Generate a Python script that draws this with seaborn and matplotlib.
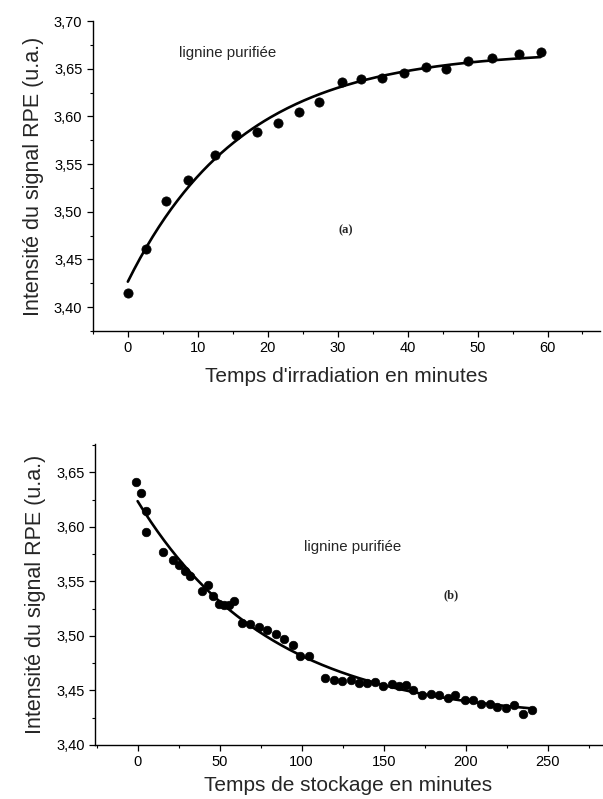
import numpy as np
import matplotlib
matplotlib.use("Agg")
import matplotlib.pyplot as plt
import seaborn as sns
from matplotlib.ticker import MultipleLocator, FuncFormatter

# Données
# (a) intensité RPE vs temps d'irradiation
temps_irr = [0, 2.6, 5.4, 8.6, 12.5, 15.4, 18.5, 21.4, 24.4, 27.4,
             30.6, 33.4, 36.4, 39.5, 42.6, 45.5, 48.7, 52.0, 55.9, 59.0]
intens_irr = [3.415, 3.461, 3.511, 3.533, 3.560, 3.580, 3.584, 3.593, 3.605, 3.615,
              3.636, 3.639, 3.640, 3.646, 3.652, 3.650, 3.658, 3.661, 3.665, 3.667]

# (b) intensité RPE vs temps de stockage
temps_sto = [-0.9, 1.8, 5.0, 5.2, 15.4, 21.8, 25.4, 28.6, 31.7, 39.4,
             42.8, 46.0, 49.4, 52.4, 55.5, 58.9, 63.7, 68.7, 73.7, 78.9,
             84.3, 89.5, 94.5, 99.3, 104.3, 114.5, 119.7, 124.4, 129.9, 134.9,
             140.1, 144.8, 149.6, 154.8, 159.3, 163.4, 167.9, 173.6, 179.1, 183.8,
             189.3, 193.8, 199.5, 204.7, 209.4, 214.9, 219.4, 224.4, 229.6, 234.8,
             240.5]
intens_sto = [3.641, 3.631, 3.615, 3.595, 3.577, 3.570, 3.565, 3.560, 3.555, 3.541,
              3.547, 3.537, 3.529, 3.528, 3.528, 3.532, 3.512, 3.511, 3.508, 3.505,
              3.502, 3.497, 3.492, 3.482, 3.482, 3.461, 3.460, 3.459, 3.460, 3.457,
              3.457, 3.458, 3.454, 3.456, 3.454, 3.455, 3.450, 3.446, 3.447, 3.446,
              3.443, 3.446, 3.441, 3.441, 3.438, 3.438, 3.435, 3.434, 3.437, 3.428,
              3.432]


def ajuster_exp(x, y, taus):
    # ajustement y = A + B*exp(-x/tau), recherche de tau sur une grille
    x = np.asarray(x)
    y = np.asarray(y)
    best = None
    for tau in taus:
        M = np.column_stack([np.ones_like(x), np.exp(-x / tau)])
        coef, res, _, _ = np.linalg.lstsq(M, y, rcond=None)
        sse = np.sum((M @ coef - y) ** 2)
        if best is None or sse < best[0]:
            best = (sse, tau, coef)
    return best[1], best[2]


def virgule(v, pos):
    return f"{v:.2f}".replace(".", ",")


sns.set_theme(style="ticks")
plt.rcParams["font.family"] = ["Liberation Sans", "DejaVu Sans"]

fig = plt.figure(figsize=(6.03, 7.99), dpi=100)
ax1 = fig.add_axes([0.154, 0.5857, 0.841, 0.388])
ax2 = fig.add_axes([0.1575, 0.0676, 0.8405, 0.3767])

# ---- (a)
tau_a, c_a = ajuster_exp(temps_irr, intens_irr, np.linspace(3, 60, 571))
xa = np.linspace(0, max(temps_irr), 200)
sns.lineplot(x=xa, y=c_a[0] + c_a[1] * np.exp(-xa / tau_a), ax=ax1, color="black", linewidth=1.9)
sns.scatterplot(x=temps_irr, y=intens_irr, ax=ax1, color="black", s=44, edgecolor="black", zorder=3)
ax1.set_xlim(-5, 67.5)
ax1.set_ylim(3.375, 3.70)
ax1.xaxis.set_major_locator(MultipleLocator(10))
ax1.xaxis.set_minor_locator(MultipleLocator(5))
ax1.yaxis.set_major_locator(MultipleLocator(0.05))
ax1.yaxis.set_minor_locator(MultipleLocator(0.025))
ax1.set_xlabel("Temps d'irradiation en minutes", fontsize=15, labelpad=8)
ax1.set_ylabel("Intensité du signal RPE (u.a.)", fontsize=15.5, labelpad=7)
ax1.text(14.3, 3.666, "lignine purifiée", fontsize=10.8, ha="center", va="center")
ax1.text(31.2, 3.481, "(a)", fontsize=9, fontweight="bold", family="Liberation Serif",
         ha="center", va="center")

# ---- (b)
tau_b, c_b = ajuster_exp(temps_sto, intens_sto, np.linspace(10, 300, 581))
xb = np.linspace(0, max(temps_sto), 300)
sns.lineplot(x=xb, y=c_b[0] + c_b[1] * np.exp(-xb / tau_b), ax=ax2, color="black", linewidth=1.9)
sns.scatterplot(x=temps_sto, y=intens_sto, ax=ax2, color="black", s=38, edgecolor="black", zorder=3)
ax2.set_xlim(-26, 283)
ax2.set_ylim(3.40, 3.676)
ax2.xaxis.set_major_locator(MultipleLocator(50))
ax2.xaxis.set_minor_locator(MultipleLocator(25))
ax2.yaxis.set_major_locator(MultipleLocator(0.05))
ax2.yaxis.set_minor_locator(MultipleLocator(0.025))
ax2.set_xlabel("Temps de stockage en minutes", fontsize=15, labelpad=5)
ax2.set_ylabel("Intensité du signal RPE (u.a.)", fontsize=15.5, labelpad=7)
ax2.text(130.9, 3.582, "lignine purifiée", fontsize=10.8, ha="center", va="center")
ax2.text(191, 3.537, "(b)", fontsize=9, fontweight="bold", family="Liberation Serif",
         ha="center", va="center")

for ax in (ax1, ax2):
    sns.despine(ax=ax)
    ax.set_facecolor("white")
    for s in ("left", "bottom"):
        ax.spines[s].set_linewidth(1.0)
        ax.spines[s].set_color("black")
    ax.yaxis.set_major_formatter(FuncFormatter(virgule))
    ax.tick_params(which="major", direction="out", length=4, width=0.9, labelsize=10.5, colors="black")
    ax.tick_params(which="minor", direction="out", length=2.5, width=0.8, colors="black")
    ax.grid(False)

fig.savefig("out.png", dpi=100, facecolor="white")
